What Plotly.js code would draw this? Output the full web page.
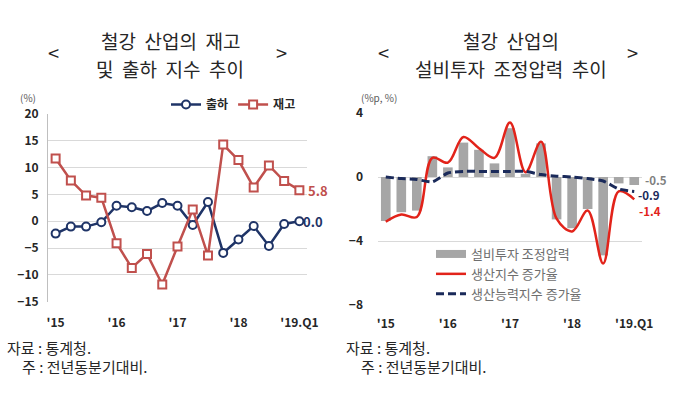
<!DOCTYPE html>
<html><head><meta charset="utf-8">
<script src="https://cdn.plot.ly/plotly-3.0.1.min.js"></script>
<style>body{margin:0;background:#fff}#chart{width:680px;height:397px}</style>
</head><body><div id="chart"></div>
<script>
// ---- data ----
const quarters = ["15Q1","15Q2","15Q3","15Q4","16Q1","16Q2","16Q3","16Q4","17Q1","17Q2","17Q3","17Q4","18Q1","18Q2","18Q3","18Q4","19Q1"];
const tickQuarters = ["15Q1","16Q1","17Q1","18Q1","19Q1"];
const tickLabels = ["'15","'16","'17","'18","'19.Q1"];
// left chart: 출하 / 재고 지수 (전년동분기대비, %)
const shipments = [-2.3,-1.0,-1.0,-0.2,2.9,2.6,1.9,3.4,2.9,-0.7,3.6,-5.9,-3.4,-0.9,-4.6,-0.5,0.0];
const inventory = [11.7,7.6,4.8,4.4,-4.1,-8.7,-6.1,-11.8,-4.7,2.2,-6.4,14.3,11.4,6.3,10.4,7.5,5.8];
// right chart
const capexPressure = [-2.75,-2.2,-2.1,1.3,0.6,2.15,1.7,0.85,3.05,0.2,2.1,-2.65,-3.2,-2.0,-4.9,-0.4,-0.5];
const productionGrowth = [-2.8,-2.35,-2.5,1.2,0.9,2.5,1.8,1.2,3.4,0.3,2.2,-2.6,-3.4,-2.1,-5.4,-0.9,-1.4];
const capacityGrowth = [0.0,-0.1,-0.15,-0.3,0.25,0.35,0.35,0.35,0.35,0.35,0.15,0.05,0.0,-0.1,-0.25,-0.75,-0.9];

const F = "Noto Sans CJK KR, Noto Sans, sans-serif";
const NAVY = "#1f3467", RED = "#c0504d", BRED = "#e2231a", GRAY = "#a6a6a6", DNAVY = "#1a2a5a";
const last = quarters[quarters.length-1];
const lastOf = a => a[a.length-1];

const traces = [
  {x: quarters, y: shipments, name: "출하", type: "scatter", mode: "lines+markers",
   line: {color: NAVY, width: 2.5}, marker: {symbol: "circle", size: 8, color: "#fff", line: {color: NAVY, width: 2}},
   xaxis: "x", yaxis: "y", legend: "legend"},
  {x: quarters, y: inventory, name: "재고", type: "scatter", mode: "lines+markers",
   line: {color: RED, width: 2.5}, marker: {symbol: "square", size: 8, color: "#fff", line: {color: RED, width: 2}},
   xaxis: "x", yaxis: "y", legend: "legend"},
  {x: quarters, y: capexPressure, name: "설비투자 조정압력", type: "bar", marker: {color: GRAY},
   width: 0.62, xaxis: "x2", yaxis: "y2", showlegend: false},
  {x: [null], y: [null], name: "설비투자 조정압력", type: "scatter", mode: "lines",
   line: {color: GRAY, width: 8}, xaxis: "x2", yaxis: "y2", legend: "legend2"},
  {x: quarters, y: productionGrowth, name: "생산지수 증가율", type: "scatter", mode: "lines",
   line: {color: BRED, width: 2.5, shape: "spline", smoothing: 1}, xaxis: "x2", yaxis: "y2", legend: "legend2"},
  {x: quarters, y: capacityGrowth, name: "생산능력지수 증가율", type: "scatter", mode: "lines",
   line: {color: DNAVY, width: 3, dash: "8px,4px", shape: "spline", smoothing: 0.6}, xaxis: "x2", yaxis: "y2", legend: "legend2"}
];

const py = p => 1 - p/397, px = p => p/680;
const yDomL = [py(301.7), py(114)], yDomR = [py(305), py(113)];
const tickFont = {family: F, size: 12, color: "#262626", weight: "bold"};

const ann = [];
function txt(x, y, text, size, opts) {
  ann.push(Object.assign({xref: "paper", yref: "paper", x: px(x), y: py(y), text: text, showarrow: false,
    font: {family: F, size: size, color: "#262626"}, xanchor: "center", yanchor: "middle"}, opts || {}));
}
// titles
txt(170, 40, "철강  산업의  재고", 19);
txt(170, 68, "및  출하  지수  추이", 19);
txt(53, 53, "<", 20); txt(281, 53, ">", 20);
txt(511, 40, "철강  산업의", 19);
txt(511, 68, "설비투자  조정압력  추이", 19);
txt(383, 53, "<", 20); txt(632, 53, ">", 20);
// units
txt(18, 98, "(%)", 10, {xanchor: "left", font: {family: F, size: 10, color: "#595959"}});
txt(359, 98, "(%p, %)", 10, {xanchor: "left", font: {family: F, size: 10, color: "#595959"}});
// footers
txt(5, 347, "자료 : 통계청.", 15, {xanchor: "left"});
txt(20, 366, "주 : 전년동분기대비.", 15, {xanchor: "left"});
txt(344, 347, "자료 : 통계청.", 15, {xanchor: "left"});
txt(359, 366, "주 : 전년동분기대비.", 15, {xanchor: "left"});
// end labels
function endLab(xa, ya, v, color, xs, ys, size) {
  ann.push({xref: xa, yref: ya, x: last, y: v, text: v.toFixed(1), showarrow: false, xanchor: "left", yanchor: "middle",
    xshift: xs, yshift: ys, borderpad: 0, font: {family: F, size: size, color: color, weight: "bold"}});
}
endLab("x", "y", lastOf(inventory), RED, 8, 0, 13);
endLab("x", "y", lastOf(shipments), NAVY, 3, 0, 13);
endLab("x2", "y2", lastOf(capexPressure), "#7f7f7f", 10, 5, 11.5);
endLab("x2", "y2", lastOf(capacityGrowth), DNAVY, 3, -4, 11.5);
endLab("x2", "y2", lastOf(productionGrowth), BRED, 4, -12, 11.5);

const layout = {
  width: 680, height: 397, margin: {l: 0, r: 0, t: 0, b: 0},
  paper_bgcolor: "#fff", plot_bgcolor: "rgba(0,0,0,0)", font: {family: F},
  xaxis: {domain: [px(48), px(307)], anchor: "y", type: "category", categoryorder: "array", categoryarray: quarters,
    range: [-0.5, 16.5], tickvals: tickQuarters, ticktext: tickLabels, ticks: "", showgrid: false,
    tickfont: tickFont, ticklabelstandoff: 12, showline: false, zeroline: false},
  xaxis3: {overlaying: "x", anchor: "free", position: yDomL[0] + (15/35)*(yDomL[1]-yDomL[0]),
    domain: [px(48), px(307)], range: [-0.5, 16.5], tick0: -0.5, dtick: 1, ticks: "outside", ticklen: 4,
    tickcolor: "#bfbfbf", showticklabels: false, showline: true, linecolor: "#bfbfbf", linewidth: 1, showgrid: false, zeroline: false},
  yaxis: {domain: yDomL, anchor: "x", range: [-15, 20], dtick: 5, tick0: 0, showgrid: true, gridcolor: "#d9d9d9",
    zeroline: false, showline: true, linecolor: "#bfbfbf", tickfont: tickFont, ticklabelstandoff: 6, ticks: ""},
  xaxis2: {domain: [px(378), px(642)], anchor: "y2", type: "category", categoryorder: "array", categoryarray: quarters,
    range: [-0.5, 16.5], tickvals: tickQuarters, ticktext: tickLabels, ticks: "", showgrid: false,
    tickfont: tickFont, ticklabelstandoff: 10, showline: false, zeroline: false},
  yaxis2: {domain: yDomR, anchor: "x2", range: [-8, 4], dtick: 4, tick0: 0, showgrid: true, gridcolor: "#d9d9d9",
    zeroline: false, showline: false, tickfont: tickFont, ticklabelstandoff: 14, ticks: ""},
  legend: {orientation: "h", x: px(166), y: py(90), xanchor: "left", yanchor: "top", bgcolor: "rgba(0,0,0,0)",
    font: {family: F, size: 12, color: "#262626", weight: "bold"}, itemwidth: 30, tracegroupgap: 0},
  legend2: {orientation: "v", x: px(431), y: py(239), xanchor: "left", yanchor: "top", bgcolor: "rgba(0,0,0,0)",
    font: {family: F, size: 13, color: "#6e6e6e"}, itemwidth: 30, tracegroupgap: 0},
  bargap: 0.38,
  annotations: ann,
  showlegend: true
};
Plotly.newPlot("chart", traces, layout, {displayModeBar: false, staticPlot: true});
</script></body></html>
